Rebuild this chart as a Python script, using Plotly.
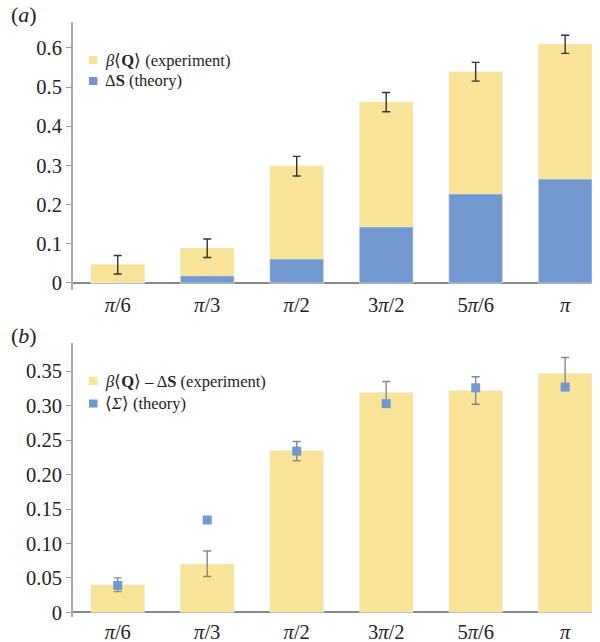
import plotly.graph_objects as go

# ---------------- data ----------------
categories = ["<i>π</i>/6", "<i>π</i>/3", "<i>π</i>/2", "3<i>π</i>/2", "5<i>π</i>/6", "<i>π</i>"]

# panel (a)
q_exp = [0.048, 0.089, 0.299, 0.462, 0.539, 0.610]          # β<Q> experiment
q_err_hi = [0.070, 0.112, 0.323, 0.486, 0.563, 0.632]
q_err_lo = [0.023, 0.065, 0.273, 0.437, 0.515, 0.586]
ds_theory = [0.0, 0.018, 0.061, 0.143, 0.227, 0.265]        # ΔS theory

# panel (b)
sig_exp = [0.040, 0.070, 0.235, 0.319, 0.322, 0.347]        # β<Q> - ΔS experiment
sig_err_hi = [0.050, 0.089, 0.248, 0.335, 0.342, 0.370]
sig_err_lo = [0.030, 0.052, 0.220, 0.303, 0.302, 0.324]
sig_theory = [0.039, 0.134, 0.234, 0.303, 0.326, 0.327]     # <Σ> theory

ticks_a = [0, 0.1, 0.2, 0.3, 0.4, 0.5, 0.6]
ticklabels_a = ["0", "0.1", "0.2", "0.3", "0.4", "0.5", "0.6"]
ticks_b = [0, 0.05, 0.10, 0.15, 0.20, 0.25, 0.30, 0.35]
ticklabels_b = ["0", "0.05", "0.10", "0.15", "0.20", "0.25", "0.30", "0.35"]

names_a = ["<i>β</i>⟨<b>Q</b>⟩ (experiment)", "Δ<b>S</b> (theory)"]
names_b = ["<i>β</i>⟨<b>Q</b>⟩ – Δ<b>S</b> (experiment)", "⟨<i>Σ</i>⟩ (theory)"]

YELLOW = "#FAE497"
BLUE = "#7299CF"
FONT = "Liberation Serif"
W, H = 600, 642
L, R = 73, 8

def px(x):
    return (x - L) / (W - L - R)

def py(y):
    return 1 - y / H

fig = go.Figure()

# panel (a)
fig.add_trace(go.Bar(
    x=categories, y=q_exp, marker_color=YELLOW, width=0.6, name=names_a[0],
    error_y=dict(type="data", symmetric=False,
                 array=[h - v for h, v in zip(q_err_hi, q_exp)],
                 arrayminus=[v - l for l, v in zip(q_err_lo, q_exp)],
                 color="#333333", thickness=1.4, width=4),
    xaxis="x", yaxis="y", showlegend=False))
fig.add_trace(go.Bar(
    x=categories, y=ds_theory, marker_color=BLUE, width=0.6, name=names_a[1],
    xaxis="x", yaxis="y", showlegend=False))

# panel (b)
fig.add_trace(go.Bar(
    x=categories, y=sig_exp, marker_color=YELLOW, width=0.6, name=names_b[0],
    error_y=dict(type="data", symmetric=False,
                 array=[h - v for h, v in zip(sig_err_hi, sig_exp)],
                 arrayminus=[v - l for l, v in zip(sig_err_lo, sig_exp)],
                 color="#888888", thickness=1.4, width=4),
    xaxis="x2", yaxis="y2", showlegend=False))
fig.add_trace(go.Scatter(
    x=categories, y=sig_theory, mode="markers", name=names_b[1],
    marker=dict(symbol="square", size=9, color=BLUE),
    xaxis="x2", yaxis="y2", showlegend=False))

xcommon = dict(type="category", range=[-0.5, 5.3], showline=False, ticks="",
               showgrid=False, zeroline=False, automargin=False,
               tickfont=dict(family=FONT, size=20.5, color="#222"))
ycommon = dict(showline=True, linecolor="#AAAAAA", linewidth=2, ticks="outside",
               ticklen=5, tickcolor="#999999", tickwidth=1.2, showgrid=False,
               zeroline=True, zerolinecolor="#888888", zerolinewidth=1.5,
               automargin=False, tickfont=dict(family=FONT, size=20.5, color="#222"))

fig.update_layout(
    width=W, height=H, barmode="overlay",
    margin=dict(l=L, r=R, t=0, b=0),
    paper_bgcolor="white", plot_bgcolor="white",
    font=dict(family=FONT, color="#222"),
    xaxis=dict(xcommon, domain=[0, 1], anchor="y"),
    yaxis=dict(ycommon, domain=[py(290), py(22)], range=[-0.018, 0.666],
               tickvals=ticks_a, ticktext=ticklabels_a, anchor="x"),
    xaxis2=dict(xcommon, domain=[0, 1], anchor="y2"),
    yaxis2=dict(ycommon, domain=[py(617), py(343)], range=[-0.0068, 0.391],
                tickvals=ticks_b, ticktext=ticklabels_b, anchor="x2"),
)

# custom legends
legend_items = [
    (names_a[0], YELLOW, 60), (names_a[1], BLUE, 81),
    (names_b[0], YELLOW, 381), (names_b[1], BLUE, 403.5),
]
for txt, col, yc in legend_items:
    fig.add_shape(type="rect", xref="paper", yref="paper",
                  x0=px(89), x1=px(97.5), y0=py(yc + 4), y1=py(yc - 4),
                  fillcolor=col, line=dict(width=0))
    fig.add_annotation(text=txt, xref="paper", yref="paper", x=px(103), y=py(yc),
                       xanchor="left", yanchor="middle", showarrow=False,
                       font=dict(family=FONT, size=16.5, color="#222"))

# panel labels
for lab, xx, yy in [("(<i>a</i>)", 9, 15), ("(<i>b</i>)", 9, 335)]:
    fig.add_annotation(text=lab, xref="paper", yref="paper", x=px(xx), y=py(yy),
                       xanchor="left", yanchor="middle", showarrow=False,
                       font=dict(family=FONT, size=22, color="#222"))

fig.write_html("out.html")
